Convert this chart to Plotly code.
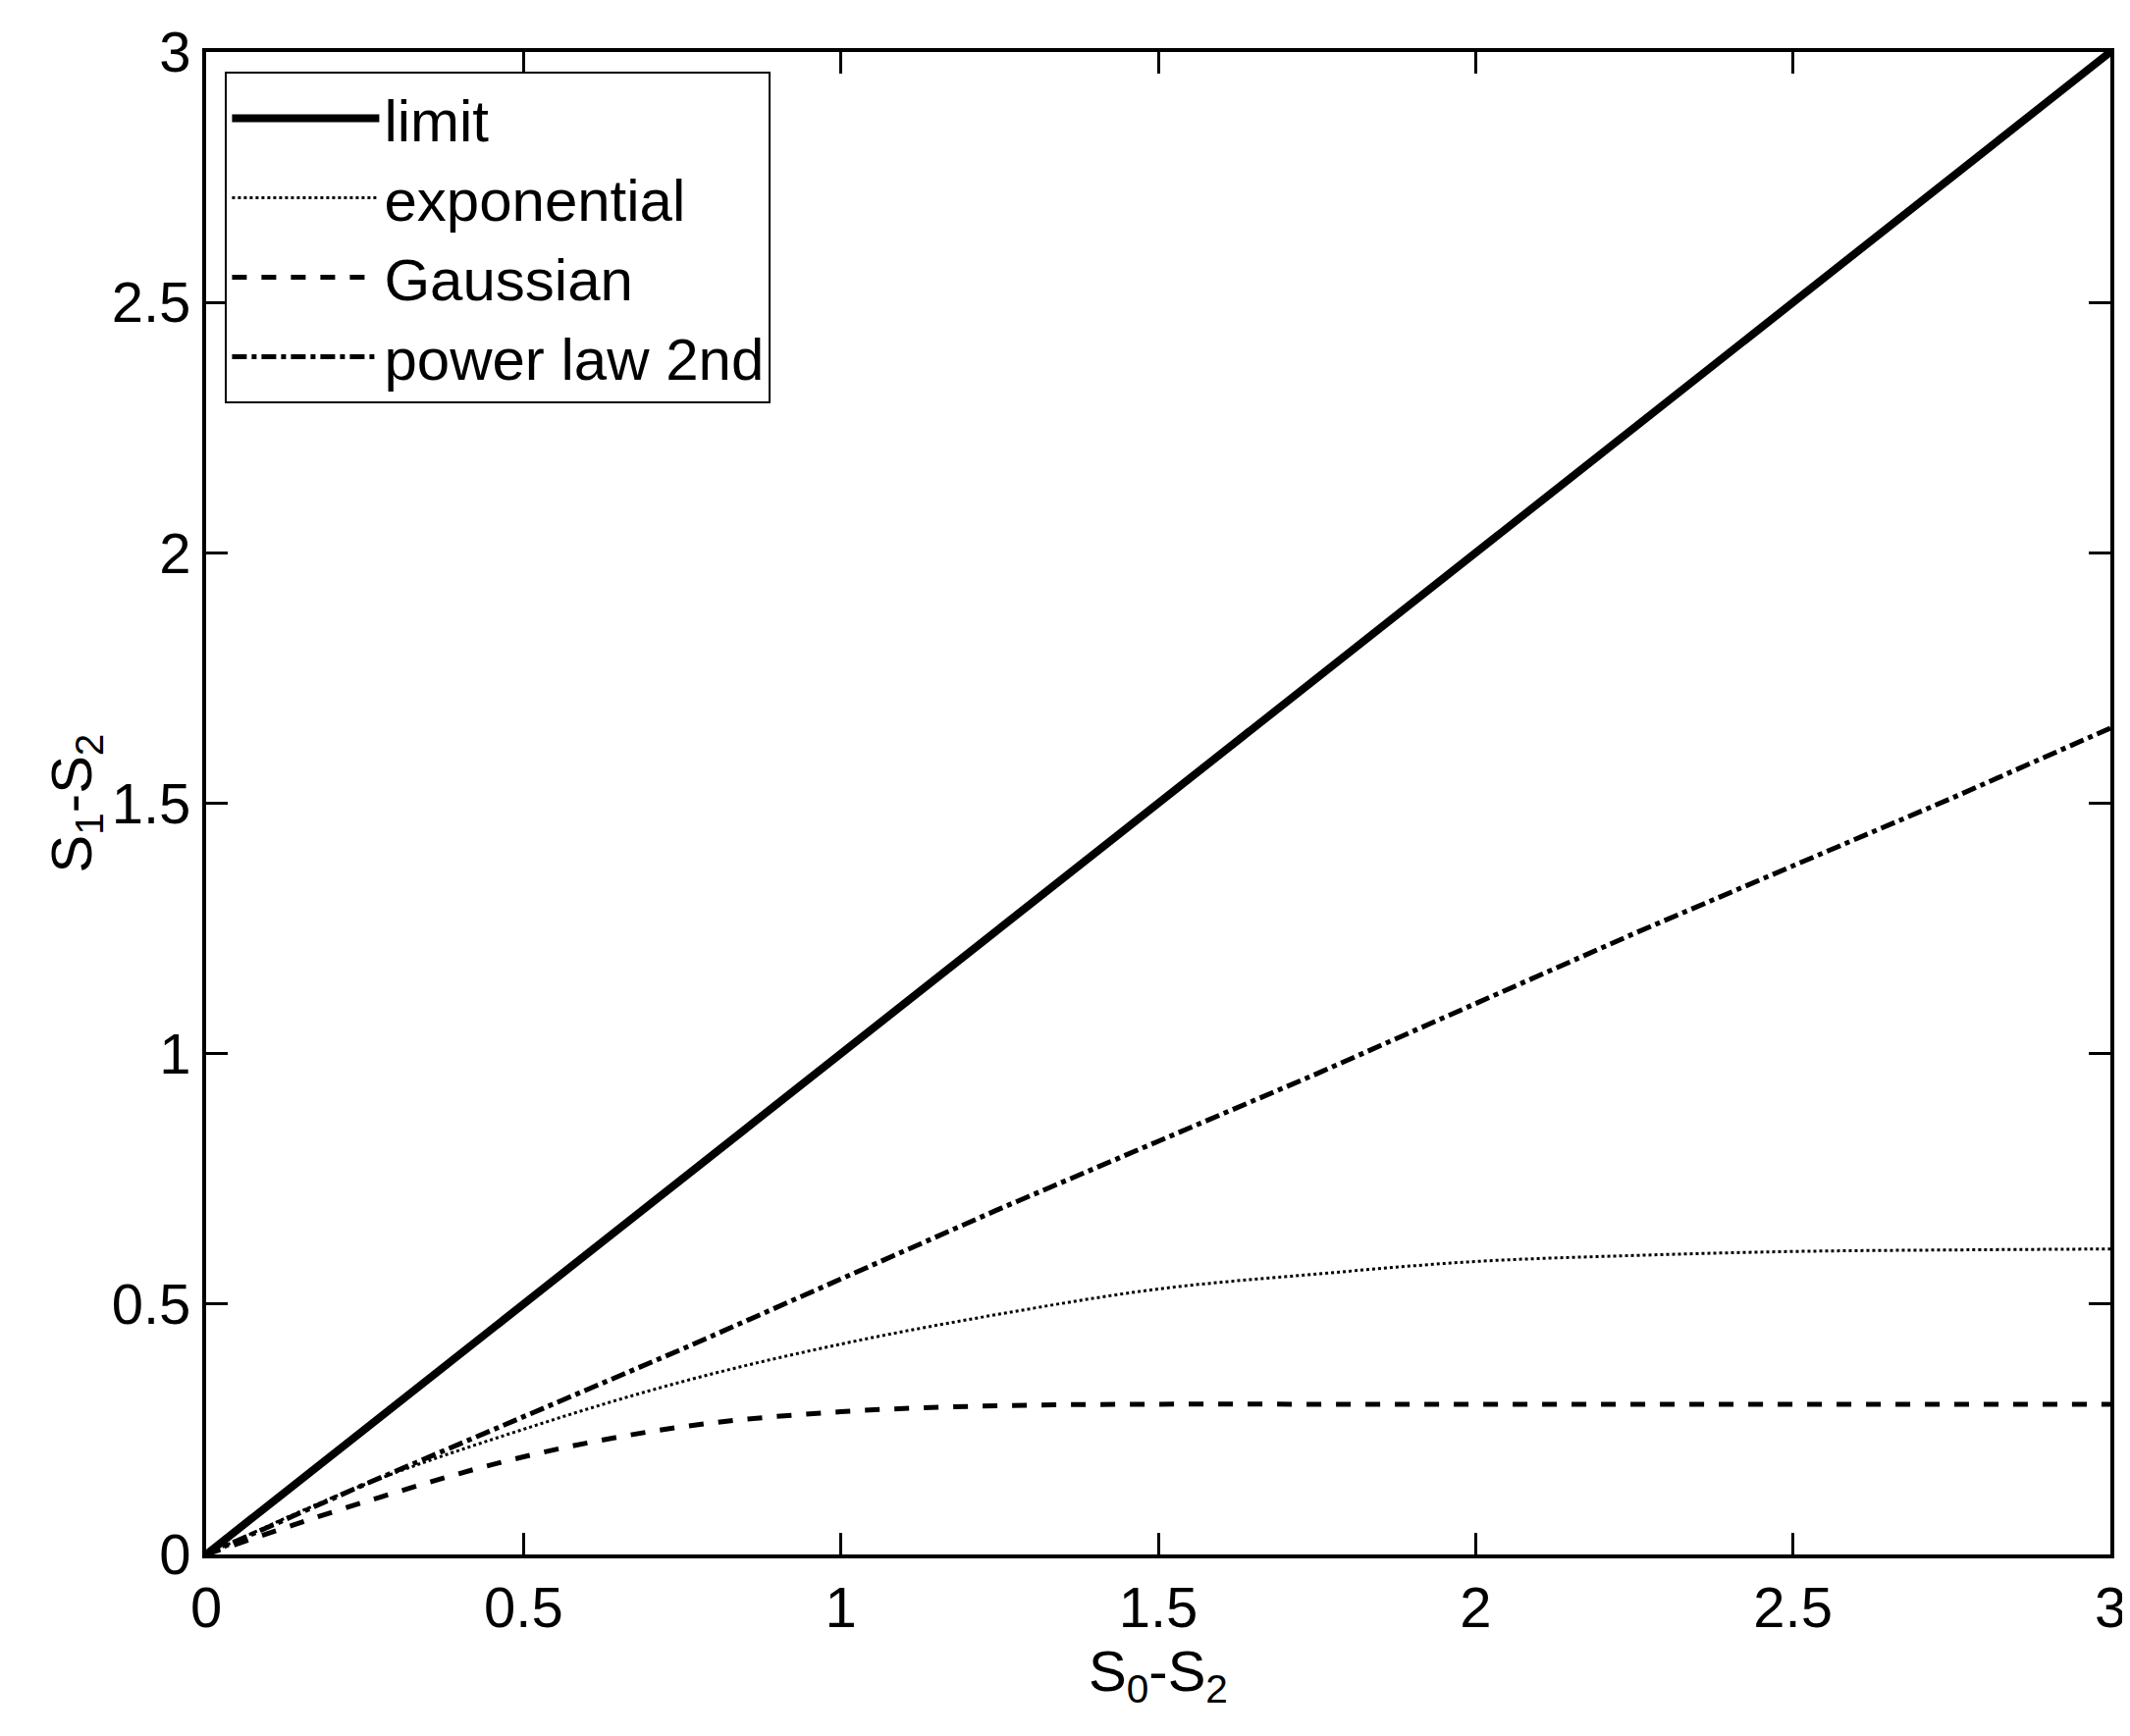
import plotly.graph_objects as go

x_vals = [0, 0.25, 0.5, 0.75, 1.0, 1.25, 1.5, 1.75, 2.0, 2.25, 2.5, 2.75, 3.0]
limit = [0, 0.25, 0.5, 0.75, 1.0, 1.25, 1.5, 1.75, 2.0, 2.25, 2.5, 2.75, 3.0]
exponential = [0, 0.14, 0.25, 0.345, 0.42, 0.48, 0.53, 0.56, 0.585, 0.597, 0.605, 0.608, 0.61]
gaussian = [0, 0.105, 0.195, 0.255, 0.285, 0.297, 0.3, 0.3, 0.3, 0.3, 0.3, 0.3, 0.3]
power_law = [0, 0.14, 0.275, 0.41, 0.55, 0.69, 0.825, 0.96, 1.1, 1.24, 1.375, 1.51, 1.65]

fig = go.Figure()
fig.add_trace(go.Scatter(x=x_vals, y=limit, mode="lines", name="limit",
                         line=dict(color="black", width=8)))
fig.add_trace(go.Scatter(x=x_vals, y=exponential, mode="lines", name="exponential",
                         line=dict(color="black", width=3, dash="dot"), line_shape="spline"))
fig.add_trace(go.Scatter(x=x_vals, y=gaussian, mode="lines", name="Gaussian",
                         line=dict(color="black", width=5, dash="dash"), line_shape="spline"))
fig.add_trace(go.Scatter(x=x_vals, y=power_law, mode="lines", name="power law 2nd",
                         line=dict(color="black", width=5, dash="dashdot")))

axis = dict(range=[0, 3], dtick=0.5, ticks="inside", ticklen=22, tickwidth=3,
            mirror="ticks", showline=True, linecolor="black", linewidth=4,
            showgrid=False, zeroline=False, tickcolor="black",
            tickfont=dict(size=58, color="black"))

fig.update_layout(
    width=2170, height=1769,
    paper_bgcolor="white", plot_bgcolor="white",
    font=dict(family="Liberation Sans, Arial", color="black"),
    margin=dict(l=202, r=28, t=45, b=193),
    xaxis=dict(axis, title=dict(text="S<sub>0</sub>-S<sub>2</sub>", font=dict(size=58), standoff=6)),
    yaxis=dict(axis, title=dict(text="S<sub>1</sub>-S<sub>2</sub>", font=dict(size=58), standoff=2)),
    legend=dict(x=0.01, y=0.987, xanchor="left", yanchor="top",
                bordercolor="black", borderwidth=2, bgcolor="white",
                font=dict(size=60), itemwidth=150, tracegroupgap=0),
)

fig.write_html("out.html")
